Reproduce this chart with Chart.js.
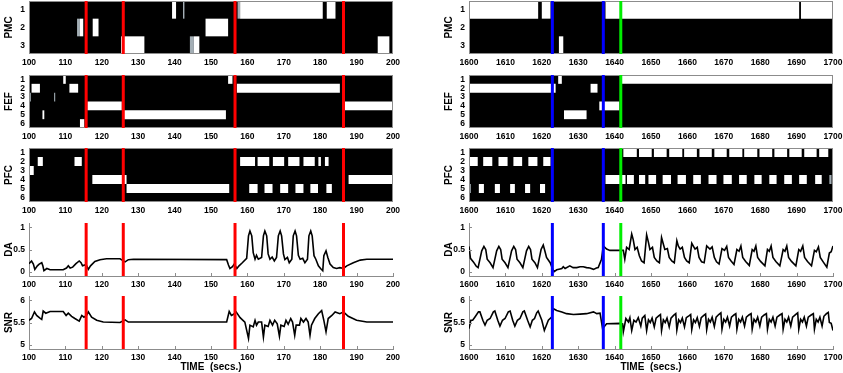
<!DOCTYPE html>
<html>
<head>
<meta charset="utf-8">
<script src="https://cdn.jsdelivr.net/npm/chart.js@4.4.0/dist/chart.umd.min.js"></script>
<style>
body { margin: 0; background: #fff; width: 843px; height: 373px; overflow: hidden; position: relative; }
canvas { position: absolute; }
</style>
</head>
<body>
<script>
// ticks and row labels
const leftTicks = [100, 110, 120, 130, 140, 150, 160, 170, 180, 190, 200];
const rightTicks = [1600, 1610, 1620, 1630, 1640, 1650, 1660, 1670, 1680, 1690, 1700];
const pmcRows = ['1', '2', '3'];
const sixRows = ['1', '2', '3', '4', '5', '6'];
const daTicks = [0, 0.5, 1];
const snrTicks = [5, 5.5, 6];

// event times (secs.)
const redMarks = [115.7, 125.9, 156.6, 186.4];
const blueMarks = [1622.9, 1636.9];
const greenMarks = [1641.7];

// active cells, one list of [start, end] per row
const pmcLeftWhite = [
  [[139.3, 140.4], [158.0, 180.7], [181.8, 184.2]],
  [[114.0, 114.9], [117.5, 119.1], [148.5, 154.7]],
  [[125.3, 131.7], [145.3, 146.8], [195.8, 199.0]]
];
const pmcLeftGrey = [
  [[142.3, 142.7], [157.3, 158.0]],
  [[113.2, 114.0]],
  [[144.2, 145.3]]
];
const fefLeftWhite = [
  [[109.4, 110.1], [154.7, 155.9]],
  [[100.7, 103.0], [111.1, 113.5], [157.1, 185.4]],
  [],
  [[116.0, 125.5], [186.8, 200]],
  [[103.7, 104.2], [126.1, 154.1]],
  [[114.0, 115.2]]
];
const fefLeftGrey = [[], [], [[100.1, 100.5], [106.9, 107.2]], [], [], []];
const pfcLeftWhite = [
  [],
  [[102.4, 103.8], [112.5, 114.5], [158.0, 162.1], [162.8, 166.0], [167.0, 170.1], [171.2, 174.3], [175.4, 178.5], [179.5, 180.2], [181.3, 182.3]],
  [[100.1, 101.3]],
  [[117.4, 126.8], [187.8, 200]],
  [[126.8, 155.0], [160.5, 162.8], [164.7, 166.9], [169.0, 171.2], [173.2, 175.4], [177.3, 179.4], [181.7, 183.2]],
  []
];
const pmcRightWhite = [
  [[1600, 1619.0], [1620.0, 1622.4], [1637.5, 1690.7], [1691.2, 1700]],
  [],
  [[1624.7, 1625.9]]
];
const fefRightWhite = [
  [[1624.5, 1625.5], [1641.9, 1700]],
  [[1600, 1623.8], [1633.4, 1635.3]],
  [],
  [[1635.8, 1641.3]],
  [[1626.1, 1632.3]],
  []
];
const pfcRightWhite = [
  [[1642.4, 1646.1], [1646.7, 1650.2], [1650.8, 1654.3], [1655.0, 1658.6], [1659.1, 1662.6], [1663.3, 1666.7], [1667.4, 1670.8], [1671.5, 1675.1], [1675.6, 1679.2], [1679.8, 1683.3], [1683.9, 1687.4], [1688.0, 1691.4], [1692.1, 1695.5], [1696.2, 1698.7]],
  [[1600, 1602.4], [1603.9, 1606.4], [1608.1, 1610.6], [1612.2, 1614.6], [1616.3, 1618.8], [1620.4, 1622.4]],
  [],
  [[1637.5, 1643.0], [1643.4, 1645.3], [1646.7, 1648.4], [1649.3, 1651.4], [1653.2, 1655.5], [1657.3, 1659.6], [1661.6, 1663.7], [1665.8, 1668.0], [1669.9, 1672.2], [1674.2, 1676.3], [1678.4, 1680.4], [1682.5, 1684.5], [1686.6, 1688.7], [1690.7, 1692.8], [1695.1, 1696.9]],
  [[1602.7, 1604.1], [1607.1, 1608.5], [1611.3, 1612.6], [1615.4, 1616.8], [1619.5, 1620.9]],
  []
];
const pfcRightGrey = [[], [], [], [[1699.0, 1699.6]], [[1600, 1600.5]], []];

// DA and SNR traces, [time, value]
const daLeft = [
  [100.0, 0.18], [100.7, 0.24], [101.2, 0.17], [101.6, 0.05], [102.3, 0.13], [102.8, 0.17], [103.5, 0.20], [103.8, 0.13],
  [104.1, 0.02], [104.9, 0.07], [105.8, 0.04], [109.4, 0.04], [110.3, 0.08], [110.8, 0.13], [111.3, 0.08], [112.0, 0.10],
  [112.9, 0.18], [113.8, 0.24], [114.3, 0.20], [114.7, 0.13], [115.4, 0.15], [115.8, 0.14], [116.3, 0.05], [116.9, 0.13],
  [118.1, 0.23], [119.5, 0.27], [121.3, 0.29], [125.0, 0.29], [126.4, 0.22], [127.3, 0.27], [128.7, 0.28], [154.3, 0.27],
  [154.8, 0.15], [155.2, 0.07], [155.9, 0.11], [156.4, 0.17], [157.1, 0.07], [157.7, 0.13], [158.6, 0.20], [159.8, 0.30],
  [160.3, 0.81], [160.7, 0.92], [161.2, 0.81], [161.6, 0.43], [162.1, 0.28], [162.5, 0.37], [163.0, 0.28], [163.9, 0.32],
  [164.4, 0.81], [164.8, 0.92], [165.3, 0.81], [165.7, 0.40], [166.2, 0.28], [166.8, 0.33], [167.4, 0.24], [168.0, 0.32],
  [168.5, 0.81], [169.0, 0.92], [169.4, 0.81], [169.9, 0.40], [170.3, 0.27], [171.0, 0.32], [171.5, 0.20], [172.2, 0.28],
  [172.6, 0.81], [173.1, 0.92], [173.5, 0.81], [174.0, 0.37], [174.5, 0.28], [175.2, 0.30], [175.8, 0.20], [176.5, 0.28],
  [176.9, 0.81], [177.4, 0.92], [177.8, 0.81], [178.3, 0.36], [178.8, 0.28], [179.5, 0.13], [180.1, 0.07], [180.7, 0.02],
  [181.0, 0.36], [181.6, 0.47], [182.1, 0.32], [182.7, 0.17], [183.6, 0.09], [184.5, 0.07], [185.4, 0.09], [186.4, 0.07],
  [187.3, 0.13], [189.1, 0.20], [191.0, 0.26], [192.8, 0.28], [200.0, 0.28]
];
const snrLeft = [
  [100.0, 5.55], [100.7, 5.59], [101.5, 5.74], [102.1, 5.66], [103.0, 5.60], [103.5, 5.57], [103.9, 5.76], [104.6, 5.71],
  [105.8, 5.75], [109.4, 5.75], [110.2, 5.66], [110.8, 5.71], [111.7, 5.64], [112.6, 5.59], [113.8, 5.53], [114.5, 5.66],
  [115.1, 5.62], [115.8, 5.66], [116.3, 5.74], [117.2, 5.62], [118.6, 5.55], [120.4, 5.51], [125.0, 5.50], [126.4, 5.56],
  [127.3, 5.51], [154.3, 5.51], [155.0, 5.75], [155.6, 5.66], [156.1, 5.68], [156.9, 5.74], [158.0, 5.61], [159.3, 5.51],
  [160.3, 5.14], [160.7, 5.44], [161.6, 5.40], [162.1, 5.55], [162.5, 5.44], [163.0, 5.51], [163.9, 5.51], [164.4, 5.17],
  [164.8, 5.44], [165.7, 5.41], [166.2, 5.55], [166.9, 5.44], [167.5, 5.55], [168.2, 5.47], [168.8, 5.19], [169.2, 5.44],
  [170.1, 5.41], [170.6, 5.55], [171.2, 5.46], [171.9, 5.59], [172.4, 5.51], [173.0, 5.21], [173.4, 5.44], [174.3, 5.44],
  [174.7, 5.59], [175.4, 5.51], [176.1, 5.59], [176.7, 5.51], [177.2, 5.21], [177.6, 5.44], [178.5, 5.59], [179.5, 5.70],
  [180.4, 5.77], [181.0, 5.55], [181.6, 5.29], [182.2, 5.59], [183.2, 5.66], [184.1, 5.74], [185.4, 5.70], [186.4, 5.74],
  [187.7, 5.64], [190.0, 5.55], [192.8, 5.51], [200.0, 5.51]
];
const daRight = [
  [1600.0, 0.57], [1600.4, 0.30], [1601.2, 0.22], [1602.0, 0.12], [1602.5, 0.09], [1603.5, 0.47], [1604.1, 0.57], [1604.6, 0.50],
  [1605.0, 0.28], [1605.8, 0.20], [1606.6, 0.09], [1607.6, 0.47], [1608.2, 0.57], [1608.7, 0.50], [1609.1, 0.28], [1609.9, 0.20],
  [1610.7, 0.09], [1611.7, 0.47], [1612.3, 0.57], [1612.8, 0.50], [1613.2, 0.28], [1614.0, 0.20], [1614.8, 0.09], [1615.8, 0.47],
  [1616.4, 0.57], [1616.9, 0.50], [1617.3, 0.28], [1618.1, 0.20], [1618.8, 0.09], [1619.8, 0.50], [1620.4, 0.60], [1620.9, 0.45],
  [1621.3, 0.32], [1622.3, 0.20], [1623.0, 0.05], [1623.4, 0.00], [1624.1, 0.04], [1625.0, 0.06], [1625.5, 0.07], [1625.9, 0.11],
  [1626.4, 0.07], [1627.7, 0.13], [1628.6, 0.09], [1629.6, 0.09], [1630.5, 0.11], [1631.4, 0.11], [1632.3, 0.09], [1633.2, 0.08],
  [1634.2, 0.05], [1635.0, 0.08], [1635.5, 0.09], [1636.4, 0.28], [1636.9, 0.58], [1637.8, 0.51], [1638.7, 0.48], [1641.5, 0.48],
  [1642.4, 0.48], [1642.8, 0.28], [1643.3, 0.55], [1644.0, 0.50], [1644.7, 0.85], [1645.1, 0.73], [1645.6, 0.50], [1646.2, 0.55],
  [1646.8, 0.36], [1647.4, 0.24], [1648.1, 0.20], [1648.8, 0.83], [1649.3, 0.66], [1649.7, 0.50], [1650.4, 0.55], [1650.9, 0.32],
  [1651.6, 0.24], [1652.3, 0.20], [1652.9, 0.77], [1653.4, 0.62], [1653.8, 0.50], [1654.5, 0.52], [1655.0, 0.32], [1655.7, 0.24],
  [1656.4, 0.20], [1657.1, 0.70], [1657.5, 0.58], [1658.0, 0.51], [1658.6, 0.55], [1659.2, 0.32], [1659.8, 0.24], [1660.5, 0.20],
  [1661.2, 0.64], [1662.1, 0.51], [1662.7, 0.55], [1663.2, 0.32], [1663.9, 0.22], [1664.6, 0.20], [1665.3, 0.58], [1666.2, 0.51],
  [1666.8, 0.56], [1667.4, 0.32], [1668.0, 0.22], [1668.7, 0.17], [1669.5, 0.52], [1670.2, 0.48], [1670.8, 0.57], [1671.3, 0.32],
  [1672.0, 0.24], [1672.8, 0.16], [1673.6, 0.50], [1674.2, 0.46], [1674.7, 0.58], [1675.2, 0.32], [1676.0, 0.23], [1677.0, 0.14],
  [1677.8, 0.50], [1678.3, 0.46], [1678.8, 0.58], [1679.3, 0.32], [1680.1, 0.23], [1681.3, 0.13], [1682.0, 0.50], [1682.5, 0.46],
  [1683.0, 0.58], [1683.5, 0.32], [1684.3, 0.23], [1685.4, 0.13], [1686.3, 0.50], [1686.8, 0.46], [1687.3, 0.58], [1687.8, 0.32],
  [1688.6, 0.23], [1689.8, 0.13], [1690.6, 0.50], [1691.1, 0.46], [1691.7, 0.58], [1692.2, 0.32], [1693.0, 0.23], [1694.1, 0.13],
  [1694.9, 0.48], [1695.4, 0.45], [1696.0, 0.56], [1696.5, 0.32], [1697.3, 0.22], [1698.3, 0.10], [1699.0, 0.42], [1699.5, 0.45],
  [1700.0, 0.58]
];
const snrRight = [
  [1600.0, 5.36], [1600.5, 5.55], [1601.0, 5.55], [1601.6, 5.62], [1602.6, 5.74], [1603.0, 5.74], [1603.8, 5.55], [1604.4, 5.44],
  [1605.0, 5.55], [1605.8, 5.59], [1606.7, 5.74], [1607.1, 5.76], [1607.9, 5.55], [1608.5, 5.42], [1609.2, 5.55], [1609.9, 5.59],
  [1610.8, 5.74], [1611.3, 5.76], [1612.0, 5.55], [1612.6, 5.42], [1613.3, 5.55], [1614.0, 5.59], [1614.8, 5.74], [1615.2, 5.76],
  [1616.1, 5.55], [1616.8, 5.40], [1617.4, 5.55], [1618.0, 5.59], [1618.6, 5.72], [1619.0, 5.76], [1620.0, 5.55], [1620.7, 5.32],
  [1621.8, 5.55], [1622.7, 5.62], [1623.2, 5.81], [1624.1, 5.77], [1625.5, 5.74], [1626.8, 5.70], [1628.7, 5.68], [1630.5, 5.69],
  [1632.3, 5.70], [1634.2, 5.74], [1635.1, 5.70], [1636.0, 5.71], [1636.7, 5.36], [1637.8, 5.47], [1641.5, 5.48], [1642.2, 5.47],
  [1642.4, 5.29], [1643.1, 5.59], [1643.8, 5.51], [1644.2, 5.61], [1644.7, 5.32], [1645.3, 5.55], [1645.9, 5.51], [1646.5, 5.61],
  [1647.2, 5.42], [1647.6, 5.60], [1648.3, 5.66], [1648.8, 5.32], [1649.3, 5.56], [1649.8, 5.50], [1650.3, 5.60], [1650.9, 5.40],
  [1651.4, 5.60], [1652.1, 5.65], [1652.6, 5.68], [1652.9, 5.32], [1653.4, 5.56], [1653.9, 5.50], [1654.4, 5.60], [1655.0, 5.40],
  [1655.5, 5.60], [1656.2, 5.66], [1656.8, 5.70], [1657.1, 5.33], [1657.6, 5.56], [1658.1, 5.50], [1658.6, 5.60], [1659.2, 5.40],
  [1659.7, 5.61], [1660.4, 5.65], [1660.9, 5.68], [1661.2, 5.34], [1661.7, 5.56], [1662.2, 5.50], [1662.7, 5.61], [1663.3, 5.41],
  [1663.8, 5.61], [1664.5, 5.66], [1665.0, 5.69], [1665.3, 5.34], [1665.8, 5.57], [1666.3, 5.51], [1666.8, 5.62], [1667.4, 5.41],
  [1667.9, 5.62], [1668.6, 5.68], [1669.2, 5.72], [1669.5, 5.35], [1670.0, 5.57], [1670.5, 5.51], [1671.0, 5.62], [1671.6, 5.42],
  [1672.1, 5.62], [1672.8, 5.67], [1673.3, 5.70], [1673.6, 5.35], [1674.1, 5.57], [1674.6, 5.51], [1675.1, 5.62], [1675.7, 5.42],
  [1676.2, 5.62], [1676.9, 5.67], [1677.5, 5.70], [1677.8, 5.35], [1678.3, 5.57], [1678.8, 5.51], [1679.3, 5.62], [1679.9, 5.42],
  [1680.4, 5.62], [1681.1, 5.67], [1681.7, 5.70], [1682.0, 5.35], [1682.5, 5.57], [1683.0, 5.51], [1683.5, 5.62], [1684.1, 5.42],
  [1684.6, 5.62], [1685.4, 5.67], [1686.0, 5.70], [1686.3, 5.35], [1686.8, 5.57], [1687.3, 5.51], [1687.8, 5.62], [1688.4, 5.42],
  [1688.9, 5.62], [1689.7, 5.68], [1690.3, 5.72], [1690.6, 5.35], [1691.1, 5.57], [1691.6, 5.51], [1692.1, 5.62], [1692.7, 5.42],
  [1693.2, 5.62], [1694.0, 5.67], [1694.6, 5.70], [1694.9, 5.35], [1695.4, 5.57], [1695.9, 5.51], [1696.4, 5.62], [1697.0, 5.42],
  [1697.5, 5.64], [1698.2, 5.70], [1698.7, 5.73], [1699.0, 5.50], [1699.5, 5.48], [1700.0, 5.32]
];

const FONT = '"Liberation Sans", Arial, Helvetica, sans-serif';
const tickFont = { family: FONT, size: 8.5, weight: 'bold', lineHeight: 1.1 };
const titleFont = { family: FONT, size: 10, weight: 'bold', lineHeight: 1.2 };
const GREY = '#8c8c8c';

// black panel fill, frame, inward ticks and event lines
const panelDeco = {
  id: 'panelDeco',
  beforeDatasetsDraw(chart, args, o) {
    if (!o.fill) return;
    const { ctx, chartArea: a } = chart;
    ctx.save();
    ctx.fillStyle = o.fill;
    ctx.fillRect(a.left, a.top, a.width, a.height);
    ctx.restore();
  },
  afterDatasetsDraw(chart, args, o) {
    const { ctx, chartArea: a, scales } = chart;
    ctx.save();
    if (o.frame) {
      ctx.strokeStyle = GREY;
      ctx.lineWidth = 1;
      ctx.strokeRect(a.left + 0.5, a.top + 0.5, a.width - 1, a.height - 1);
    }
    if (o.inTicks) {
      ctx.strokeStyle = GREY;
      ctx.lineWidth = 1;
      ctx.beginPath();
      scales.x.ticks.forEach(t => {
        const px = Math.round(scales.x.getPixelForValue(t.value)) + 0.5;
        ctx.moveTo(px, a.bottom);
        ctx.lineTo(px, a.bottom - 3);
      });
      scales.y.ticks.forEach(t => {
        const py = Math.round(scales.y.getPixelForValue(t.value)) + 0.5;
        ctx.moveTo(a.left, py);
        ctx.lineTo(a.left + 3, py);
      });
      ctx.stroke();
    }
    (o.marks || []).forEach(m => m.at.forEach(t => {
      const px = scales.x.getPixelForValue(t);
      ctx.strokeStyle = m.color;
      ctx.lineWidth = 3;
      ctx.beginPath();
      ctx.moveTo(px, a.top);
      ctx.lineTo(px, a.bottom);
      ctx.stroke();
    }));
    ctx.restore();
  }
};
Chart.register(panelDeco);

const plain = v => String(v);

function xAxis(ticks, h, title, borderOn) {
  return {
    type: 'linear',
    min: ticks[0],
    max: ticks[ticks.length - 1],
    afterBuildTicks: s => { s.ticks = ticks.map(v => ({ value: v })); },
    afterFit: s => { s.height = h; s.paddingLeft = 0; s.paddingRight = 0; s.paddingTop = 0; s.paddingBottom = 0; },
    grid: { display: false, drawTicks: false },
    border: { display: borderOn, color: GREY, width: 1 },
    ticks: { font: tickFont, color: '#000', padding: 4, autoSkip: false, maxRotation: 0, callback: plain },
    title: { display: !!title, text: title || '', font: titleFont, color: '#000', padding: { top: 0, bottom: 0 } }
  };
}

function yCommon(title) {
  return {
    afterFit: s => { s.width = 29; s.paddingTop = 0; s.paddingBottom = 0; s.paddingLeft = 0; s.paddingRight = 0; },
    grid: { display: false, drawTicks: false },
    ticks: { font: tickFont, color: '#000', padding: 4, autoSkip: false },
    title: { display: true, text: title, font: titleFont, color: '#000', padding: { top: 3, bottom: 0 } }
  };
}

function heatCfg(rows, white, grey, ticks, title, marks, axisH) {
  const toBars = list => list.flatMap((cells, i) => cells.map(c => ({ x: c, y: rows[i] })));
  const barStyle = { grouped: false, barPercentage: 1, categoryPercentage: 1, borderWidth: 0, inflateAmount: 0 };
  return {
    type: 'bar',
    data: {
      labels: rows,
      datasets: [
        Object.assign({ data: toBars(white), backgroundColor: '#ffffff' }, barStyle),
        Object.assign({ data: toBars(grey), backgroundColor: '#a3aeb5' }, barStyle)
      ]
    },
    options: {
      indexAxis: 'y',
      scales: {
        x: xAxis(ticks, axisH, null, false),
        y: Object.assign({ type: 'category', border: { display: false } }, yCommon(title))
      },
      plugins: { legend: { display: false }, tooltip: { enabled: false }, panelDeco: { fill: '#000', frame: true, marks: marks } }
    }
  };
}

function lineCfg(points, ticks, yTicks, yMin, yMax, title, marks, axisH, xTitle) {
  const y = Object.assign({
    type: 'linear', min: yMin, max: yMax,
    afterBuildTicks: s => { s.ticks = yTicks.map(v => ({ value: v })); },
    border: { display: true, color: GREY, width: 1 }
  }, yCommon(title));
  y.ticks.callback = plain;
  return {
    type: 'line',
    data: {
      datasets: [{
        data: points.map(p => ({ x: p[0], y: p[1] })),
        borderColor: '#000', borderWidth: 1.6, pointRadius: 0, tension: 0, fill: false
      }]
    },
    options: {
      scales: { x: xAxis(ticks, axisH, xTitle, true), y: y },
      plugins: { legend: { display: false }, tooltip: { enabled: false }, panelDeco: { inTicks: true, marks: marks } }
    }
  };
}

function makePanel(left, top, h, axisH, cfg) {
  const c = document.createElement('canvas');
  const W = 410, H = 4 + h + axisH;
  c.width = W; c.height = H;
  c.style.left = left + 'px';
  c.style.top = (top - 4) + 'px';
  c.style.width = W + 'px';
  c.style.height = H + 'px';
  document.body.appendChild(c);
  cfg.options.responsive = false;
  cfg.options.animation = false;
  cfg.options.devicePixelRatio = 1;
  cfg.options.events = [];
  cfg.options.layout = { padding: { top: 4, right: 17, left: 0, bottom: 0 } };
  return new Chart(c, cfg);
}

const leftMarks = [{ at: redMarks, color: '#ff0000' }];
const rightMarks = [{ at: blueMarks, color: '#0000ff' }, { at: greenMarks, color: '#00ee00' }];
const noGrey3 = [[], [], []];
const noGrey6 = [[], [], [], [], [], []];

// left column
makePanel(0, 1, 53, 18, heatCfg(pmcRows, pmcLeftWhite, pmcLeftGrey, leftTicks, 'PMC', leftMarks, 18));
makePanel(0, 75, 53, 18, heatCfg(sixRows, fefLeftWhite, fefLeftGrey, leftTicks, 'FEF', leftMarks, 18));
makePanel(0, 148, 54, 18, heatCfg(sixRows, pfcLeftWhite, noGrey6, leftTicks, 'PFC', leftMarks, 18));
makePanel(0, 223, 53, 18, lineCfg(daLeft, leftTicks, daTicks, -0.1, 1.1, 'DA', leftMarks, 18));
makePanel(0, 296, 53, 24, lineCfg(snrLeft, leftTicks, snrTicks, 4.9, 6.1, 'SNR', leftMarks, 24, 'TIME  (secs.)'));

// right column
makePanel(440, 1, 53, 18, heatCfg(pmcRows, pmcRightWhite, noGrey3, rightTicks, 'PMC', rightMarks, 18));
makePanel(440, 75, 53, 18, heatCfg(sixRows, fefRightWhite, noGrey6, rightTicks, 'FEF', rightMarks, 18));
makePanel(440, 148, 54, 18, heatCfg(sixRows, pfcRightWhite, pfcRightGrey, rightTicks, 'PFC', rightMarks, 18));
makePanel(440, 223, 53, 18, lineCfg(daRight, rightTicks, daTicks, -0.1, 1.1, 'DA', rightMarks, 18));
makePanel(440, 296, 53, 24, lineCfg(snrRight, rightTicks, snrTicks, 4.9, 6.1, 'SNR', rightMarks, 24, 'TIME  (secs.)'));
</script>
</body>
</html>
